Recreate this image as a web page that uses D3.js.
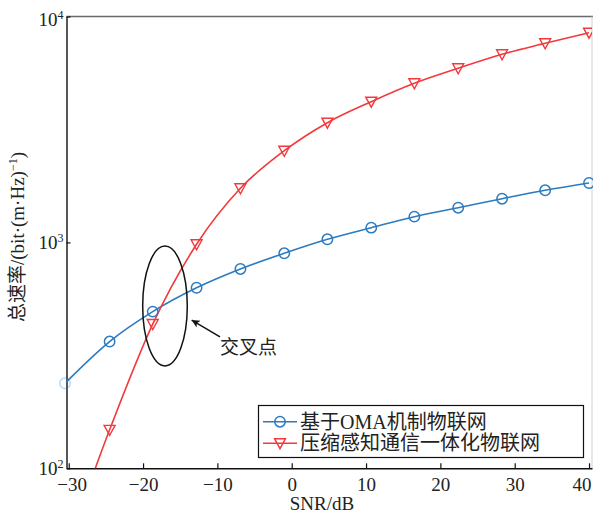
<!DOCTYPE html>
<html>
<head>
<meta charset="utf-8">
<script src="https://cdnjs.cloudflare.com/ajax/libs/d3/7.8.5/d3.min.js"></script>
<style>
  html, body { margin: 0; padding: 0; background: #fff; }
  svg text { font-family: "Liberation Serif", "Noto Sans CJK SC", serif; fill: #222; }
</style>
</head>
<body>
<div id="chart"></div>
<script>
// data
var snr = [-30.5, -24.5, -18.7, -12.8, -6.9, -1.0, 4.8, 10.7, 16.5, 22.4, 28.3, 34.1, 40.0];
var omaRate = [238, 364, 494, 630, 763, 895, 1032, 1162, 1300, 1424, 1561, 1701, 1832];
var csRate = [42, 148, 435, 981, 1736, 2546, 3388, 4197, 5062, 5898, 6802, 7608, 8479];
var seriesNames = ["基于OMA机制物联网", "压缩感知通信一体化物联网"];
var xTicks = [-30, -20, -10, 0, 10, 20, 30, 40];
var yTicks = [100, 1000, 10000];

var W = 593, H = 515;
var margin = {left: 66.5, right: 1, top: 16.5, bottom: 46.7};
var blue = "#2b7bc0", red = "#f2393b";

var svg = d3.select("#chart").append("svg")
    .attr("width", W).attr("height", H);

var x = d3.scaleLinear().domain([-30.3, 40.4]).range([margin.left, W - margin.right]);
var y = d3.scaleLog().domain([100, 10000]).range([H - margin.bottom, margin.top]);

svg.append("clipPath").attr("id", "plotclip")
  .append("rect")
    .attr("x", x.range()[0]).attr("y", y.range()[1])
    .attr("width", x.range()[1] - x.range()[0])
    .attr("height", y.range()[0] - y.range()[1]);

// top and right frame (as in the cropped figure)
svg.append("line")
    .attr("x1", x.range()[0]).attr("x2", W)
    .attr("y1", y.range()[1]).attr("y2", y.range()[1])
    .attr("stroke", "#6a6a6a").attr("stroke-width", 1.5);
svg.append("line")
    .attr("x1", W - 1).attr("x2", W - 1)
    .attr("y1", y.range()[1]).attr("y2", y.range()[0])
    .attr("stroke", "#d0d0d0").attr("stroke-width", 1);

// axes
var xAxis = svg.append("g")
    .attr("transform", "translate(0," + y.range()[0] + ")")
    .call(d3.axisBottom(x).tickValues(xTicks).tickSize(-5).tickPadding(9).tickSizeOuter(0));
var yAxis = svg.append("g")
    .attr("transform", "translate(" + x.range()[0] + ",0)")
    .call(d3.axisLeft(y).tickValues(yTicks).tickSize(-4).tickPadding(3).tickSizeOuter(0));

[xAxis, yAxis].forEach(function(a) {
  a.select(".domain").attr("stroke", "#111").attr("stroke-width", 1.4);
  a.selectAll(".tick line").attr("stroke", "#111").attr("stroke-width", 1.2);
  a.selectAll(".tick text").attr("font-size", "19px")
    .attr("font-family", "Liberation Serif, serif").attr("fill", "#222");
});

// the end labels sit inside the cropped figure
xAxis.selectAll(".tick").filter(function(d) { return d === 40; })
  .select("text").attr("text-anchor", "end").attr("x", 2);
xAxis.selectAll(".tick").filter(function(d) { return d === -30; })
  .select("text").attr("x", 3);

yAxis.selectAll(".tick text").each(function(d) {
  var t = d3.select(this).text(null).attr("dy", "0.32em");
  t.append("tspan").text("10");
  t.append("tspan").attr("font-size", "12px").attr("dy", "-7").text(Math.round(Math.log10(d)));
});
yAxis.selectAll(".tick").filter(function(d) { return d === 10000; })
  .select("text").attr("dy", "0.45em");

// axis titles
svg.append("text")
    .attr("x", 322).attr("y", 510)
    .attr("text-anchor", "middle").attr("font-size", "19px")
    .text("SNR/dB");

var yl = svg.append("text")
    .attr("transform", "translate(24," + 237 + ") rotate(-90)")
    .attr("text-anchor", "middle").attr("font-size", "19px");
yl.append("tspan").text("总速率/(bit·(m·Hz)");
yl.append("tspan").attr("font-size", "12px").attr("dy", "-7").text("−1");
yl.append("tspan").attr("dy", "7").text(")");

// lines
var line = d3.line()
    .x(function(d) { return x(d[0]); })
    .y(function(d) { return y(d[1]); })
    .curve(d3.curveMonotoneX);

var plot = svg.append("g").attr("clip-path", "url(#plotclip)");

var omaData = snr.map(function(s, i) { return [s, omaRate[i]]; });
var csData = snr.map(function(s, i) { return [s, csRate[i]]; });

plot.append("path").datum(omaData).attr("d", line)
    .attr("fill", "none").attr("stroke", blue).attr("stroke-width", 1.6);
plot.append("path").datum(csData).attr("d", line)
    .attr("fill", "none").attr("stroke", red).attr("stroke-width", 1.6);

var tri = "M-5.5,-4.5L5.5,-4.5L0,5.5Z";

// markers
svg.append("g").selectAll("circle")
    .data(omaData).enter().append("circle")
    .attr("cx", function(d) { return x(d[0]); })
    .attr("cy", function(d) { return y(d[1]); })
    .attr("r", 5.2)
    .attr("fill", "none")
    .attr("stroke", blue).attr("stroke-width", 1.5)
    .attr("opacity", function(d, i) { return i === 0 ? 0.3 : 1; });

svg.append("g").attr("clip-path", "url(#plotclip)").selectAll("path")
    .data(csData).enter().append("path")
    .attr("d", tri)
    .attr("transform", function(d) { return "translate(" + x(d[0]) + "," + y(d[1]) + ")"; })
    .attr("fill", "none")
    .attr("stroke", red).attr("stroke-width", 1.4);

// crossing annotation: ellipse, arrow, label
var ell = {x0: -20.05, x1: -14.05, y0: 284, y1: 963};
svg.append("ellipse")
    .attr("cx", (x(ell.x0) + x(ell.x1)) / 2)
    .attr("cy", (y(ell.y0) + y(ell.y1)) / 2)
    .attr("rx", (x(ell.x1) - x(ell.x0)) / 2)
    .attr("ry", (y(ell.y0) - y(ell.y1)) / 2)
    .attr("fill", "none").attr("stroke", "#111").attr("stroke-width", 1.5);

svg.append("defs").append("marker")
    .attr("id", "arrowhead")
    .attr("viewBox", "0 0 10 10")
    .attr("refX", 10).attr("refY", 5)
    .attr("markerWidth", 10).attr("markerHeight", 8)
    .attr("markerUnits", "userSpaceOnUse")
    .attr("orient", "auto")
  .append("path").attr("d", "M0,0L10,5L0,10L2.5,5Z").attr("fill", "#111");

var arrowTail = [-9.65, 382], arrowTip = [-13.46, 453];
svg.append("line")
    .attr("x1", x(arrowTail[0])).attr("y1", y(arrowTail[1]))
    .attr("x2", x(arrowTip[0])).attr("y2", y(arrowTip[1]))
    .attr("stroke", "#111").attr("stroke-width", 1.5)
    .attr("marker-end", "url(#arrowhead)");

svg.append("text")
    .attr("x", x(-9.65)).attr("y", y(322))
    .attr("font-size", "19px")
    .text("交叉点");

// legend
var lg = svg.append("g");
lg.append("rect")
    .attr("x", 258.5).attr("y", 405.5).attr("width", 325).attr("height", 52)
    .attr("fill", "#fff").attr("stroke", "#111").attr("stroke-width", 1.2);

var rows = lg.selectAll("g.row").data(seriesNames).enter().append("g")
    .attr("class", "row")
    .attr("transform", function(d, i) { return "translate(0," + (421.7 + i * 21.5) + ")"; });
rows.append("line")
    .attr("x1", 263).attr("x2", 297)
    .attr("stroke", function(d, i) { return i === 0 ? blue : red; })
    .attr("stroke-width", 1.6);
rows.filter(function(d, i) { return i === 0; }).append("circle")
    .attr("cx", 280).attr("r", 5.2)
    .attr("fill", "none").attr("stroke", blue).attr("stroke-width", 1.5);
rows.filter(function(d, i) { return i === 1; }).append("path")
    .attr("d", tri).attr("transform", "translate(280,0)")
    .attr("fill", "none").attr("stroke", red).attr("stroke-width", 1.4);
rows.append("text")
    .attr("x", 300).attr("dy", "0.36em")
    .attr("font-size", "20px")
    .text(function(d) { return d; });
</script>
</body>
</html>
